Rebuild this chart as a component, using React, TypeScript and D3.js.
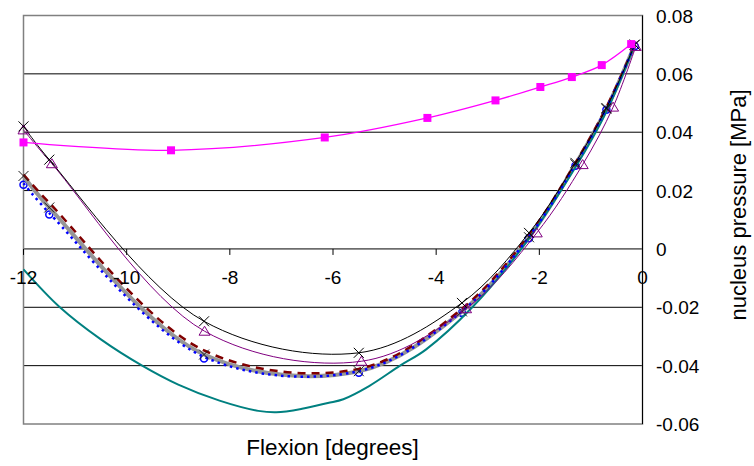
import * as d3 from "d3";

// flexion angles (degrees) where the FE models report values
const flexX = [-12, -11.5, -8.5, -5.5, -3.5, -2.2, -1.3, -0.7, -0.15];
const blackY = [0.042, 0.0306, -0.0248, -0.0356, -0.0185, 0.0055, 0.0295, 0.0483, 0.07];
const grayY = [0.025, 0.0142, -0.0362, -0.0419, -0.0214, 0.004, 0.029, 0.048, 0.07];
const redY = [0.0255, 0.0158, -0.0348, -0.0411, -0.0205, 0.0048, 0.0295, 0.0485, 0.07];
const blueY = [0.0225, 0.0123, -0.037, -0.0419, -0.0214, 0.0042, 0.029, 0.0482, 0.07];

const purpleX = [-12, -11.45, -8.49, -5.45, -3.42, -2.05, -1.16, -0.57, -0.13];
const purpleY = [0.0408, 0.0292, -0.0282, -0.0385, -0.0205, 0.0055, 0.0289, 0.0486, 0.0694];

const magentaX = [-12, -9.14, -6.16, -4.17, -2.85, -1.98, -1.37, -0.79, -0.22];
const magentaY = [0.0365, 0.0338, 0.0382, 0.0449, 0.0509, 0.0555, 0.0589, 0.063, 0.0702];

const tealX = [-12, -11.3, -10.5, -9.7, -9.0, -8.2, -7.45, -7.1, -6.6, -6.1, -5.8, -5.3, -4.7, -4.2, -3.3, -2.35, -1.3, -0.7, -0.15];
const tealY = [-0.007, -0.0199, -0.031, -0.04, -0.0465, -0.052, -0.0555, -0.056, -0.0548, -0.0528, -0.0515, -0.047, -0.04, -0.0345, -0.02, 0.0, 0.028, 0.047, 0.07];

const xTicks = [-12, -10, -8, -6, -4, -2, 0];
const yTicks = [0.08, 0.06, 0.04, 0.02, 0, -0.02, -0.04, -0.06];

const width = 754;
const height = 466;
const left = 23.5;
const right = 642.5;
const top = 15.5;
const bottom = 424;

const font = "Arial, 'Liberation Sans', sans-serif";

export default function App() {
  const x = d3.scaleLinear().domain([-12, 0]).range([left, right]);
  const y = d3.scaleLinear().domain([-0.06, 0.08]).range([bottom, top]);

  const line = (xs: number[], ys: number[]) =>
    d3
      .line<number>()
      .x((_, i) => x(xs[i]))
      .y((d) => y(d))
      .curve(d3.curveCatmullRom.alpha(0.5))(ys) || "";

  const cross = (cx: number, cy: number, s = 5) =>
    `M${cx - s},${cy - s}L${cx + s},${cy + s}M${cx - s},${cy + s}L${cx + s},${cy - s}`;

  const tri = (cx: number, cy: number) =>
    `M${cx},${cy - 5}L${cx + 5.5},${cy + 4}L${cx - 5.5},${cy + 4}Z`;

  return (
    <svg
      width={width}
      height={height}
      style={{ position: "absolute", left: 0, top: 0, background: "#fff" }}
    >
      {/* grid */}
      {yTicks
        .filter((t) => t !== 0.08 && t !== -0.06)
        .map((t) => (
          <line key={t} x1={left} x2={right} y1={y(t)} y2={y(t)} stroke="#000" strokeWidth={1} />
        ))}
      <rect x={left} y={top} width={right - left} height={bottom - top} fill="none" stroke="#808080" strokeWidth={1.5} />
      <line x1={right} x2={right} y1={top} y2={bottom} stroke="#000" strokeWidth={1} />

      {/* x axis ticks at y=0 */}
      {xTicks.map((t) => (
        <line key={t} x1={x(t)} x2={x(t)} y1={y(0)} y2={y(0) + 6} stroke="#000" />
      ))}

      {/* blue markers sit under the other lines */}
      {flexX.map((v, i) => (
        <circle key={"b" + i} cx={x(v)} cy={y(blueY[i]) + 1.5} r={3.5} fill="none" stroke="#0000ff" strokeWidth={1.5} />
      ))}

      {/* series */}
      <path d={line(flexX, grayY)} fill="none" stroke="#969696" strokeWidth={4} />
      <path d={line(flexX, redY)} fill="none" stroke="#800000" strokeWidth={2.5} strokeDasharray="8,6" />
      <path d={line(tealX, tealY)} fill="none" stroke="#008080" strokeWidth={2} />
      <path d={line(flexX, blueY)} fill="none" stroke="#0000ff" strokeWidth={2.5} strokeDasharray="2.5,4" />
      <path d={line(purpleX, purpleY)} fill="none" stroke="#800080" strokeWidth={1} />
      <path d={line(flexX, blackY)} fill="none" stroke="#000" strokeWidth={1} />
      <path d={line(magentaX, magentaY)} fill="none" stroke="#ff00ff" strokeWidth={1.3} />

      {/* markers */}
      {flexX.map((v, i) => (
        <path key={"g" + i} d={cross(x(v), y(grayY[i]))} stroke="#222" strokeWidth={1} />
      ))}
      {purpleX.map((v, i) => (
        <path key={"p" + i} d={tri(x(v), y(purpleY[i]))} fill="none" stroke="#800080" strokeWidth={1} />
      ))}
      {flexX.map((v, i) => (
        <path key={"k" + i} d={cross(x(v), y(blackY[i]))} stroke="#000" strokeWidth={1} />
      ))}
      {magentaX.map((v, i) => (
        <rect key={"m" + i} x={x(v) - 4} y={y(magentaY[i]) - 4} width={8} height={8} fill="#ff00ff" />
      ))}

      {/* tick labels */}
      {xTicks.map((t) => (
        <text key={t} x={x(t)} y={y(0) + 35} textAnchor="middle" fontFamily={font} fontSize={19} fill="#000">
          {t}
        </text>
      ))}
      {yTicks.map((t) => (
        <text key={t} x={656} y={y(t) + 7} textAnchor="start" fontFamily={font} fontSize={19} fill="#000">
          {t === 0 ? "0" : d3.format(".2f")(t).replace("−", "-")}
        </text>
      ))}

      {/* axis titles */}
      <text x={332.5} y={455} textAnchor="middle" fontFamily={font} fontSize={22.5} fill="#000">
        Flexion [degrees]
      </text>
      <text
        transform={`translate(745.5,205) rotate(-90)`}
        textAnchor="middle"
        fontFamily={font}
        fontSize={22}
        fill="#000"
      >
        nucleus pressure [MPa]
      </text>
    </svg>
  );
}
